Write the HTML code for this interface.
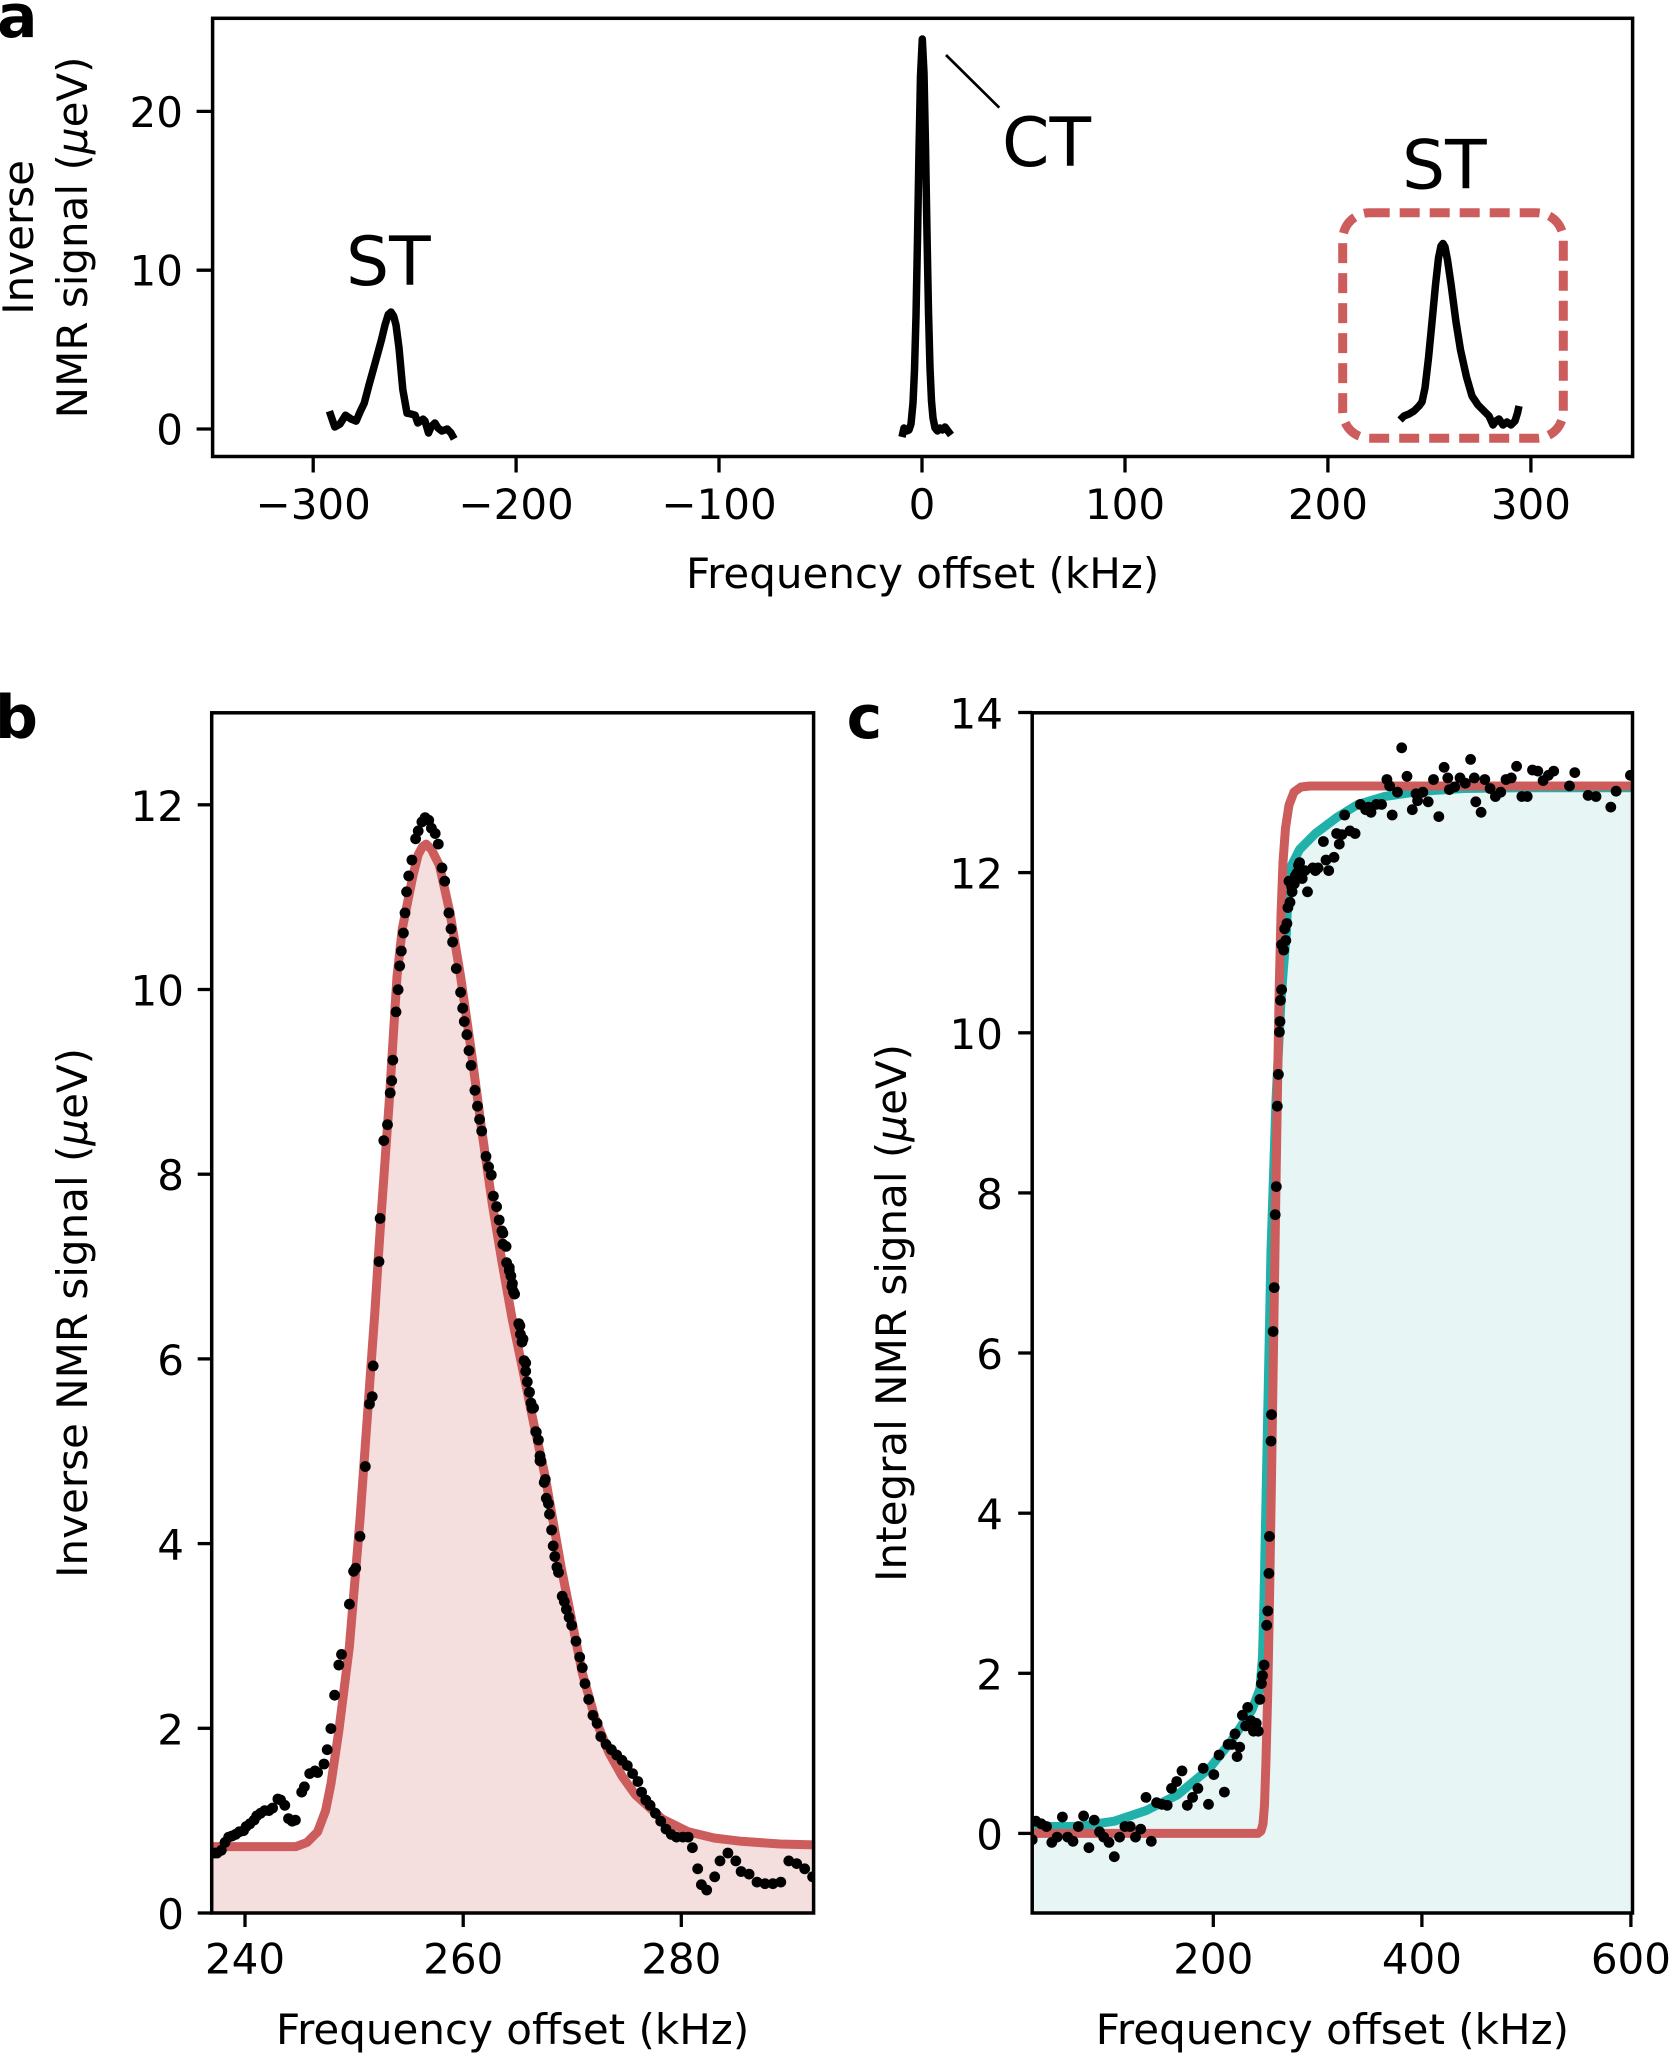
<!DOCTYPE html>
<html>
<head>
<meta charset="utf-8">
<style>
  html,body{margin:0;padding:0;background:#fff;}
  svg{display:block;}
  text{font-family:"DejaVu Sans","Liberation Sans",sans-serif;fill:#000;}
</style>
</head>
<body>
<svg id="fig" xmlns="http://www.w3.org/2000/svg" width="1669" height="2053" viewBox="0 0 1669 2053">
  <defs>
    <clipPath id="clipA"><rect x="212.6" y="18.3" width="1420" height="438.2"/></clipPath>
    <clipPath id="clipB"><rect x="211.7" y="712.8" width="601.9" height="1200.2"/></clipPath>
    <clipPath id="clipC"><rect x="1032.2" y="712.8" width="600.3" height="1200.2"/></clipPath>
  </defs>
  <rect x="0" y="0" width="1669" height="2053" fill="#fff"/>

  <!-- ================= PANEL A ================= -->
  <g clip-path="url(#clipA)" fill="none" stroke="#000" stroke-width="7.5" stroke-linejoin="round">
    <polyline points="329.4,411.2 334.8,427 340,424 345.5,415.2 351,419 356.2,421.1 360,412 364.2,403.3 369,385 374.9,363.8 381.4,340 385,325 388.3,314.4 391,312 393.7,316.3 396,325 399,348 402.8,389.5 407,413.2 411,414 415.1,415.2 417.8,423 423.1,419.1 425,421 428.5,433 431,427 434.9,423 438,428 441.9,431 447.2,429 451,433 454.2,438.9"/>
    <polyline points="902,437 904,428 906.5,431 909,430 911,424 913,403 914.5,370 916,316 917.5,239 919,151 920.5,76 922.3,39 924,73 925.5,146 927,234 928.5,312 930,368 931.5,401 933,418 935,428 937.5,431 940,428 942.5,430 945,427 948,431 951,435"/>
    <polyline points="1400,420 1404,416 1409,414 1414,411 1419,406 1422,402 1425,388 1428.5,358 1432,322 1435.5,285 1438.5,258 1441,246 1443,243.5 1445,247 1447.5,260 1451,284 1456,322 1460.5,350 1466.5,377 1472,396 1478,405 1484,411 1489,416 1493,425 1496,421 1499,419 1503,425 1507,422 1511,425 1515,421 1517.5,413 1519,406"/>
  </g>
  <!-- annotation line CT -->
  <line x1="946" y1="55" x2="999.3" y2="107.7" stroke="#000" stroke-width="2.7"/>
  <!-- dashed box -->
  <rect x="1342.7" y="212.7" width="220.6" height="225.6" rx="27" ry="27" fill="none" stroke="#cd5c5c" stroke-width="9" stroke-dasharray="20 10"/>
  <!-- annotations -->
  <text x="346" y="285" font-size="68">ST</text>
  <text x="1002" y="166" font-size="68">CT</text>
  <text x="1402" y="188.5" font-size="68">ST</text>
  <!-- frame -->
  <rect x="212.6" y="18.3" width="1420" height="438.2" fill="none" stroke="#000" stroke-width="3.5"/>
  <!-- ticks -->
  <g stroke="#000" stroke-width="3.3">
    <line x1="313.2" y1="456.5" x2="313.2" y2="472.5"/>
    <line x1="516.1" y1="456.5" x2="516.1" y2="472.5"/>
    <line x1="719" y1="456.5" x2="719" y2="472.5"/>
    <line x1="922" y1="456.5" x2="922" y2="472.5"/>
    <line x1="1125" y1="456.5" x2="1125" y2="472.5"/>
    <line x1="1327.9" y1="456.5" x2="1327.9" y2="472.5"/>
    <line x1="1530.9" y1="456.5" x2="1530.9" y2="472.5"/>
    <line x1="196.6" y1="429" x2="212.6" y2="429"/>
    <line x1="196.6" y1="270.2" x2="212.6" y2="270.2"/>
    <line x1="196.6" y1="111.4" x2="212.6" y2="111.4"/>
  </g>
  <g font-size="42" text-anchor="middle">
    <text x="313.2" y="519">−300</text>
    <text x="516.1" y="519">−200</text>
    <text x="719" y="519">−100</text>
    <text x="922" y="519">0</text>
    <text x="1125" y="519">100</text>
    <text x="1327.9" y="519">200</text>
    <text x="1530.9" y="519">300</text>
  </g>
  <g font-size="42" text-anchor="end">
    <text x="183" y="444.5">0</text>
    <text x="183" y="285.7">10</text>
    <text x="183" y="126.9">20</text>
  </g>
  <text x="922.6" y="588" font-size="42" text-anchor="middle">Frequency offset (kHz)</text>
  <text transform="translate(33,237.4) rotate(-90)" font-size="42" text-anchor="middle">Inverse</text>
  <text transform="translate(87,237.4) rotate(-90)" font-size="42" text-anchor="middle">NMR signal (<tspan font-style="italic">μ</tspan>eV)</text>
  <text x="-3" y="37" font-size="60" font-weight="bold">a</text>

  <!-- ================= PANEL B ================= -->
  <g clip-path="url(#clipB)">
    <polygon fill="#f5dede" points="205,1846.6 296,1846.6 307,1842.4 317.6,1831.8 325.6,1810.6 330.9,1784.1 338.8,1731.2 344.1,1688.9 349.4,1646.5 354.7,1583 360,1519.5 365.3,1445.3 370.6,1371.2 374.8,1313 378.5,1254.8 381.2,1214.7 389.1,1103.5 397,976.5 402.3,928.8 407.6,902.3 412.9,875.9 418.2,854.7 422.4,846.8 426.2,844.1 431.4,849.4 439.4,865.3 450,912.9 460.6,976.5 471.2,1050.6 481.7,1130 492.3,1204 502,1262 512,1318 522,1366 533,1420 545.3,1477 561.1,1567 582.3,1673 595,1718 608.8,1752.4 622,1776 635.3,1794.7 661.7,1818.6 688.2,1831.8 714,1838 741.1,1841.3 780,1844 820,1845 820,1920 205,1920"/>
    <polyline fill="none" stroke="#cd5c5c" stroke-width="9" stroke-linejoin="round" points="205,1846.6 296,1846.6 307,1842.4 317.6,1831.8 325.6,1810.6 330.9,1784.1 338.8,1731.2 344.1,1688.9 349.4,1646.5 354.7,1583 360,1519.5 365.3,1445.3 370.6,1371.2 374.8,1313 378.5,1254.8 381.2,1214.7 389.1,1103.5 397,976.5 402.3,928.8 407.6,902.3 412.9,875.9 418.2,854.7 422.4,846.8 426.2,844.1 431.4,849.4 439.4,865.3 450,912.9 460.6,976.5 471.2,1050.6 481.7,1130 492.3,1204 502,1262 512,1318 522,1366 533,1420 545.3,1477 561.1,1567 582.3,1673 595,1718 608.8,1752.4 622,1776 635.3,1794.7 661.7,1818.6 688.2,1831.8 714,1838 741.1,1841.3 780,1844 820,1845"/>
    <g id="dotsB" fill="#000"></g>
  </g>
  <rect x="211.7" y="712.8" width="601.9" height="1200.2" fill="none" stroke="#000" stroke-width="3.5"/>
  <g stroke="#000" stroke-width="3.3">
    <line x1="245" y1="1913" x2="245" y2="1927"/>
    <line x1="463.2" y1="1913" x2="463.2" y2="1927"/>
    <line x1="681.3" y1="1913" x2="681.3" y2="1927"/>
    <line x1="197.7" y1="1913" x2="211.7" y2="1913"/>
    <line x1="197.7" y1="1728.3" x2="211.7" y2="1728.3"/>
    <line x1="197.7" y1="1543.6" x2="211.7" y2="1543.6"/>
    <line x1="197.7" y1="1358.9" x2="211.7" y2="1358.9"/>
    <line x1="197.7" y1="1174.2" x2="211.7" y2="1174.2"/>
    <line x1="197.7" y1="989.5" x2="211.7" y2="989.5"/>
    <line x1="197.7" y1="804.8" x2="211.7" y2="804.8"/>
  </g>
  <g font-size="42" text-anchor="middle">
    <text x="245" y="1973.5">240</text>
    <text x="463.2" y="1973.5">260</text>
    <text x="681.3" y="1973.5">280</text>
  </g>
  <g font-size="42" text-anchor="end">
    <text x="184" y="1929">0</text>
    <text x="184" y="1744.3">2</text>
    <text x="184" y="1559.6">4</text>
    <text x="184" y="1374.9">6</text>
    <text x="184" y="1190.2">8</text>
    <text x="184" y="1005.5">10</text>
    <text x="184" y="820.8">12</text>
  </g>
  <text x="512.6" y="2044" font-size="42" text-anchor="middle">Frequency offset (kHz)</text>
  <text transform="translate(87,1312.9) rotate(-90)" font-size="42" text-anchor="middle">Inverse NMR signal (<tspan font-style="italic">μ</tspan>eV)</text>
  <text x="-5" y="738" font-size="60" font-weight="bold">b</text>

  <!-- ================= PANEL C ================= -->
  <g clip-path="url(#clipC)">
    <polygon fill="#e8f5f5" points="1025,1826.5 1077.2,1826.5 1114.3,1821.2 1146,1810.6 1177.8,1794.7 1209.6,1768.2 1230.7,1741.8 1251.9,1710 1259.9,1688.9 1262.5,1657 1264,1600 1267,1450 1271,1250 1276,1100 1281,1000 1284.5,955 1286.3,934 1289,870.6 1299.6,849.4 1315.4,833.5 1336.6,817.6 1357.8,804.4 1384.3,796.5 1421.3,791.2 1463.7,788.5 1520,787.8 1640,787.8 1640,1920 1025,1920"/>
    <polyline fill="none" stroke="#20b2aa" stroke-width="9" stroke-linejoin="round" points="1025,1826.5 1077.2,1826.5 1114.3,1821.2 1146,1810.6 1177.8,1794.7 1209.6,1768.2 1230.7,1741.8 1251.9,1710 1259.9,1688.9 1262.5,1657 1264,1600 1267,1450 1271,1250 1276,1100 1281,1000 1284.5,955 1286.3,934 1289,870.6 1299.6,849.4 1315.4,833.5 1336.6,817.6 1357.8,804.4 1384.3,796.5 1421.3,791.2 1463.7,788.5 1520,787.8 1640,787.8"/>
    <polyline fill="none" stroke="#cd5c5c" stroke-width="9" stroke-linejoin="round" points="1025,1833.4 1258,1833.4 1261,1831 1263,1824 1264.5,1805 1266,1760 1267.8,1690 1269.5,1600 1271.3,1490 1273,1380 1274.6,1276 1276.2,1170 1277.8,1070 1279.3,985 1281,915 1283,862 1285.5,828 1289,805 1294,792 1301,787 1310,786 1640,786"/>
    <g id="dotsC" fill="#000"></g>
  </g>
  <rect x="1032.2" y="712.8" width="600.3" height="1200.2" fill="none" stroke="#000" stroke-width="3.5"/>
  <g stroke="#000" stroke-width="3.3">
    <line x1="1213.3" y1="1913" x2="1213.3" y2="1927"/>
    <line x1="1421.9" y1="1913" x2="1421.9" y2="1927"/>
    <line x1="1630.9" y1="1913" x2="1630.9" y2="1927"/>
    <line x1="1018.2" y1="1833.4" x2="1032.2" y2="1833.4"/>
    <line x1="1018.2" y1="1673.3" x2="1032.2" y2="1673.3"/>
    <line x1="1018.2" y1="1513.2" x2="1032.2" y2="1513.2"/>
    <line x1="1018.2" y1="1353" x2="1032.2" y2="1353"/>
    <line x1="1018.2" y1="1192.9" x2="1032.2" y2="1192.9"/>
    <line x1="1018.2" y1="1032.8" x2="1032.2" y2="1032.8"/>
    <line x1="1018.2" y1="872.6" x2="1032.2" y2="872.6"/>
    <line x1="1018.2" y1="712.5" x2="1032.2" y2="712.5"/>
  </g>
  <g font-size="42" text-anchor="middle">
    <text x="1213.3" y="1973.5">200</text>
    <text x="1421.9" y="1973.5">400</text>
    <text x="1630.9" y="1973.5">600</text>
  </g>
  <g font-size="42" text-anchor="end">
    <text x="1003" y="1849.4">0</text>
    <text x="1003" y="1689.3">2</text>
    <text x="1003" y="1529.2">4</text>
    <text x="1003" y="1369">6</text>
    <text x="1003" y="1208.9">8</text>
    <text x="1003" y="1048.8">10</text>
    <text x="1003" y="888.6">12</text>
    <text x="1003" y="728.5">14</text>
  </g>
  <text x="1332.4" y="2044" font-size="42" text-anchor="middle">Frequency offset (kHz)</text>
  <text transform="translate(906,1312.9) rotate(-90)" font-size="42" text-anchor="middle">Integral NMR signal (<tspan font-style="italic">μ</tspan>eV)</text>
  <text x="846.6" y="738" font-size="60" font-weight="bold">c</text>
</svg>

<script>
(function(){
  var NS="http://www.w3.org/2000/svg";
  var S=1.889, R=5.4;
  function add(g, arr, xo, yo){
    for(var i=0;i<arr.length;i++){
      var c=document.createElementNS(NS,"circle");
      c.setAttribute("cx",(xo+arr[i][0]/S).toFixed(1));
      c.setAttribute("cy",(yo+arr[i][1]/S).toFixed(1));
      c.setAttribute("r",R);
      g.appendChild(c);
    }
  }
  var B4=[[405,1190],[410,1190],[418,1185],[425,1170],[432,1160],[438,1158],[445,1155],[452,1150],[460,1148],[465,1140],[472,1135],[480,1128],[485,1120],[492,1115],[500,1110],[508,1110],[515,1105],[525,1088],[530,1090],[538,1100],[545,1125],[552,1130],[558,1128],[570,1075],[575,1065],[585,1040],[595,1035],[600,1038],[612,1022],[618,995],[625,955],[632,892],[640,835],[645,815],[660,720],[668,658],[672,652],[680,592],[690,460],[698,342],[703,328],[705,270],[716,73],
  [948,15],[950,40],[957,75],[962,90],[965,100],[967,120],[970,130],[980,190],[983,210],[986,225],[990,260],[993,280],[996,300],[1000,320],[1003,340],[1005,350],[1013,395],[1017,410],[1020,440],[1022,450],[1028,490],[1032,520],[1036,530],[1038,550],[1042,580],[1045,610],[1048,630],[1052,650],[1055,660],[1062,705],[1066,715],[1070,730],[1075,745],[1080,760],[1088,790],[1095,820],[1100,840],[1105,870],[1112,900],[1120,930],[1128,945],[1135,970],[1145,985],[1155,995],[1165,1005],[1175,1015],[1185,1025],[1195,1040],[1205,1055],[1212,1075],[1220,1090],[1228,1100],[1238,1115],[1248,1130],[1258,1145],[1268,1155],[1278,1160],[1290,1160],[1300,1160],[1308,1180],[1318,1220],[1325,1250],[1335,1260],[1350,1235],[1360,1205],[1375,1190],[1390,1205],[1400,1225],[1415,1230],[1430,1245],[1445,1248],[1460,1248],[1475,1245],[1490,1205],[1505,1210],[1520,1220],[1535,1235]];
  var B3=[[718,1017],[725,870],[732,840],[737,780],[740,757],[742,718],[748,627],[752,585],[755,540],[758,512],[762,478],[765,440],[768,400],[772,370],[778,340],[785,300],[790,285],[797,268],[803,260],[810,265],[815,280],[822,290],[828,310],[835,355],[840,380],[848,440],[852,470],[855,495],[862,545],[870,590],[874,620],[877,645],[882,670],[886,700],[890,728],[897,775],[902,805],[906,830],[910,852],[918,900],[923,920],[928,935],[932,975],[938,995],[943,1020],[950,1045],[956,1070],[962,1110],[968,1140],[972,1160],[982,1220],[988,1245],[993,1290],[1000,1345],[1008,1375],[1012,1420],[1020,1475],[1030,1510]];
  var gB=document.getElementById("dotsB");
  add(gB,B4,0,1223); add(gB,B3,0,680);

  var C6=[[365,1165],[372,1130],[382,1135],[392,1140],[402,1170],[412,1160],[422,1122],[432,1160],[442,1168],[452,1140],[462,1120],[472,1180],[482,1128],[492,1150],[500,1160],[510,1170],[520,1197],[530,1160],[540,1140],[550,1140],[560,1160],[570,1145],[580,1085],[590,1168],[600,1095],[610,1098],[620,1100],[628,1068],[638,1055],[648,1035],[658,1100],[668,1085],[678,1068],[688,1030],[698,1098],[708,1042],[718,1005],[728,1075],[735,985],[742,985],[748,965],[752,1008],[757,990],[762,930],[768,950],[772,915],[778,940],[783,960],[788,945],[792,960],[795,900],[798,870],[800,855],[803,835],[808,760],[810,733],[812,662],[813,592],[816,412],[817,362],[820,205],[822,122]];
  var C5=[[824,1010],[826,957],[828,805],[830,745],[832,665],[833,645],[834,605],[836,585],[836,500],[840,510],[842,470],[844,492],[846,460],[848,430],[850,380],[852,420],[855,390],[856,400],[860,385],[862,370],[865,365],[868,350],[870,345],[875,375],[880,360],[885,400],[895,355],[900,360],[905,355],[915,305],[920,340],[925,360],[935,335],[940,290],[945,310],[950,292],[955,255],[965,285],[975,290],[985,235],[995,245],[1000,240],[1005,250],[1015,235],[1025,235],[1035,188],[1040,200],[1045,255],[1055,212],[1063,128],[1073,182],[1083,245],[1090,215],[1093,228],[1103,212],[1113,230],[1123,188],[1133,258],[1143,165],[1150,185],[1153,207],[1163,202],[1173,185],[1183,195],[1193,150],[1200,185],[1203,230],[1213,250],[1220,188],[1230,205],[1240,220],[1250,212],[1260,188],[1270,185],[1280,163],[1290,220],[1300,220],[1310,170],[1320,172],[1330,190],[1340,180],[1350,172],[1380,200],[1390,175],[1415,218],[1430,220],[1458,240],[1468,210],[1495,180]];
  var gC=document.getElementById("dotsC");
  add(gC,C6,839,1223); add(gC,C5,839,680);
})();
</script>
</body>
</html>
